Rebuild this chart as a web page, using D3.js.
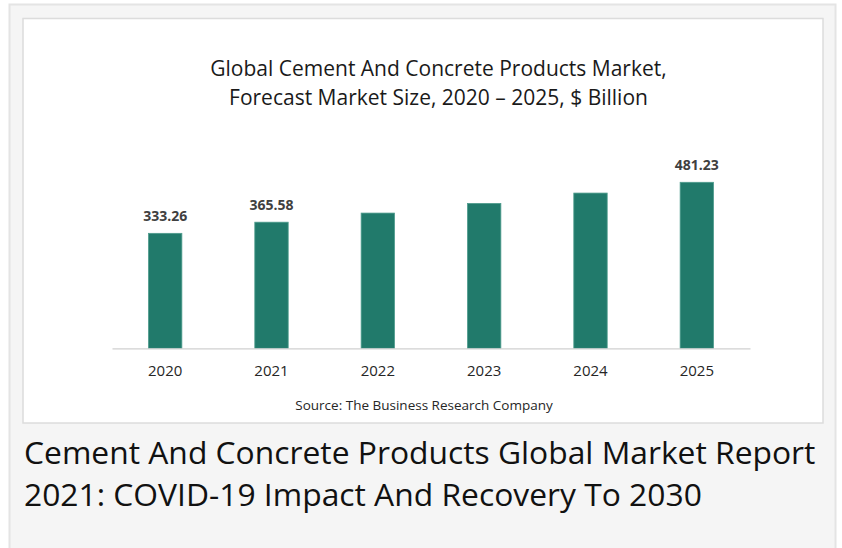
<!DOCTYPE html>
<html>
<head>
<meta charset="utf-8">
<script src="https://cdn.jsdelivr.net/npm/d3@7/dist/d3.min.js"></script>
<style>
  body { margin: 0; background: #ffffff; }
  svg { display: block; font-family: "Open Sans", sans-serif; }
</style>
</head>
<body>
<svg id="chart"></svg>
<script>
// chart data
var years = ["2020", "2021", "2022", "2023", "2024", "2025"];
var marketSize = [333.26, 365.58, 392, 420, 450, 481.23];
var shownLabels = ["333.26", "365.58", "", "", "", "481.23"];
var titleLines = ["Global Cement And Concrete Products Market,", "Forecast Market Size, 2020 \u2013 2025, $ Billion"];
var headingLines = ["Cement And Concrete Products Global Market Report", "2021: COVID-19 Impact And Recovery To 2030"];
var sourceText = "Source: The Business Research Company";

var screen = {width: 842, height: 548};

var svg = d3.select("#chart")
    .attr("width", screen.width)
    .attr("height", screen.height);

// outer grey panel
svg.append("rect")
    .attr("x", 9.5).attr("y", 4.5)
    .attr("width", 826).attr("height", 560)
    .attr("fill", "#f5f5f5")
    .attr("stroke", "#e4e4e4")
    .attr("stroke-width", 2);

// inner white chart box
svg.append("rect")
    .attr("x", 23).attr("y", 18.5)
    .attr("width", 800).attr("height", 404.5)
    .attr("fill", "#ffffff")
    .attr("stroke", "#dcdcdc")
    .attr("stroke-width", 1.5);

var margins = {left: 112, right: 92, top: 120, bottom: 199.7};

var xScale = d3.scaleBand()
    .domain(years)
    .range([margins.left, screen.width - margins.right])
    .paddingInner(0.686)
    .paddingOuter(0.343);

var yScale = d3.scaleLinear()
    .domain([0, 481.23])
    .range([screen.height - margins.bottom, screen.height - margins.bottom - 166]);

// title
svg.append("g")
    .selectAll("text")
    .data(titleLines)
    .enter()
    .append("text")
    .attr("x", 438.5)
    .attr("y", function(d, i) { return 76 + i * 28.5; })
    .attr("text-anchor", "middle")
    .attr("font-size", "21px")
    .attr("fill", "#1a1a1a")
    .text(function(d) { return d; });

// bars
svg.append("g")
    .selectAll("rect")
    .data(marketSize)
    .enter()
    .append("rect")
    .attr("x", function(d, i) { return xScale(years[i]); })
    .attr("y", function(d) { return yScale(d); })
    .attr("width", xScale.bandwidth())
    .attr("height", function(d) { return yScale(0) - yScale(d); })
    .attr("fill", "#217a6b")
    .attr("stroke", "#4f9c8d")
    .attr("stroke-width", 0.8);

// value labels
svg.append("g")
    .selectAll("text")
    .data(marketSize)
    .enter()
    .append("text")
    .attr("x", function(d, i) { return xScale(years[i]) + xScale.bandwidth() / 2; })
    .attr("y", function(d) { return yScale(d) - 12; })
    .attr("text-anchor", "middle")
    .attr("font-size", "14px")
    .attr("font-weight", "bold")
    .attr("fill", "#404040")
    .text(function(d, i) { return shownLabels[i]; });

// x axis
var xAxis = d3.axisBottom(xScale).tickSize(0).tickPadding(17);
var axis = svg.append("g")
    .attr("transform", "translate(0," + yScale(0) + ")")
    .call(xAxis);
axis.select(".domain")
    .attr("stroke", "#d0d0d0")
    .attr("stroke-width", 1.2);
axis.selectAll(".tick text")
    .attr("font-family", "Open Sans, sans-serif")
    .attr("font-size", "15px")
    .attr("fill", "#262626");

// source
svg.append("text")
    .attr("x", 424)
    .attr("y", 410)
    .attr("text-anchor", "middle")
    .attr("font-size", "13.5px")
    .attr("fill", "#262626")
    .text(sourceText);

// page heading
svg.append("g")
    .selectAll("text")
    .data(headingLines)
    .enter()
    .append("text")
    .attr("x", 24)
    .attr("y", function(d, i) { return 464 + i * 42; })
    .attr("font-size", "31.8px")
    .attr("fill", "#111111")
    .text(function(d) { return d; });
</script>
</body>
</html>
